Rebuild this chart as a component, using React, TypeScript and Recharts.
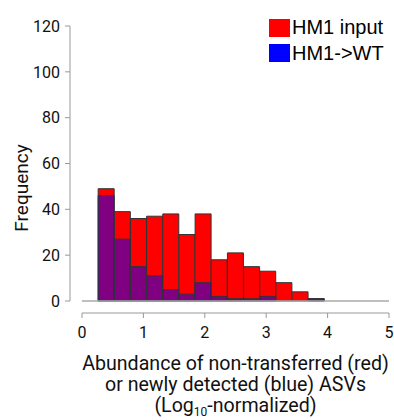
import { ComposedChart, Bar, XAxis, YAxis, Legend, ReferenceLine } from "recharts";

// histogram bins (left edge of each bin, log10 units)
const binStarts = [0.0, 0.26, 0.53, 0.79, 1.05, 1.32, 1.58, 1.84, 2.11, 2.37, 2.63, 2.89, 3.16, 3.42, 3.68, 3.95, 4.21, 4.47, 4.74];
const hm1Input = [0, 49, 39, 36, 37, 38, 29, 38, 18, 21, 15, 13, 8, 4, 1, 0, 0, 0, 0];
const hm1ToWT = [0, 46, 27, 15, 11, 5, 3, 8, 2, 1, 1, 2, 0, 0, 1, 0, 0, 0, 0];

const xTicks = [0, 1, 2, 3, 4, 5];
const yTicks = [0, 20, 40, 60, 80, 100, 120];

const data = binStarts.map((start, i) => ({
  start,
  input: hm1Input[i],
  wt: hm1ToWT[i],
}));

const AXIS_FONT = "Roboto, 'Noto Sans', sans-serif";

const renderLegend = (props: any) => (
  <div style={{ fontFamily: "'Liberation Sans', Arial, sans-serif", fontSize: 20, color: "#000" }}>
    {props.payload.map((p: any) => (
      <div key={p.value} style={{ display: "flex", alignItems: "center", height: 25.5 }}>
        <span style={{ display: "inline-block", width: 21, height: 18, background: p.color, marginRight: 2 }} />
        {p.value}
      </div>
    ))}
  </div>
);

const XTitle = (props: any) => {
  const { x, y, width } = props.viewBox;
  const cx = x + width / 2;
  return (
    <text x={cx} y={y} textAnchor="middle" fontFamily={AXIS_FONT} fontSize={19.6} fill="#111">
      <tspan x={cx} dy={57}>Abundance of non-transferred (red)</tspan>
      <tspan x={cx} dy={21}>or newly detected (blue) ASVs</tspan>
      <tspan x={cx} dy={21}>
        (Log<tspan fontSize={12} dy={4}>10</tspan>
        <tspan dy={-4}>-normalized)</tspan>
      </tspan>
    </text>
  );
};

const YTitle = () => (
  <text x={28} y={188} transform="rotate(-90 28 188)" textAnchor="middle" fontFamily={AXIS_FONT} fontSize={19} fill="#111">
    Frequency
  </text>
);

export default function App() {
  return (
    <div style={{ position: "absolute", left: 0, top: 0 }}>
      <ComposedChart width={394} height={420} data={data} barCategoryGap="0%" barGap={0}
        margin={{ top: 26, right: 5, bottom: 0, left: 0 }}>
        {/* spacer axes push the visible axes away from the plot */}
        <XAxis xAxisId="binsRed" dataKey="start" type="category" height={12} axisLine={false} tickLine={false} tick={false} />
        <XAxis xAxisId="binsBlue" dataKey="start" type="category" height={0} hide />
        <XAxis xAxisId="num" dataKey="start" type="number" domain={[0, 5]} allowDataOverflow ticks={xTicks}
          height={107} tickSize={5} tickMargin={9} stroke="#999"
          tick={{ fill: "#111", fontSize: 16, fontFamily: AXIS_FONT }} label={<XTitle />} />
        <YAxis yAxisId="pad" width={12} domain={[0, 120]} axisLine={false} tickLine={false} tick={false} />
        <YAxis yAxisId="y" width={70} domain={[0, 120]} ticks={yTicks} tickSize={5} tickMargin={5} stroke="#999"
          tick={{ fill: "#111", fontSize: 16, fontFamily: AXIS_FONT }} label={<YTitle />} />
        <ReferenceLine yAxisId="y" xAxisId="num" y={0} stroke="#aaa" strokeWidth={1.5} />
        <Bar xAxisId="binsRed" yAxisId="y" dataKey="input" name="HM1 input" fill="#ff0000" stroke="#333" strokeWidth={1} isAnimationActive={false} />
        <Bar xAxisId="binsBlue" yAxisId="y" dataKey="wt" name="HM1->WT" fill="#0000ff" fillOpacity={0.5} stroke="#333" strokeWidth={1} isAnimationActive={false} />
        <Legend layout="vertical" align="center" verticalAlign="middle" content={renderLegend}
          wrapperStyle={{ top: 15, left: 269, width: "auto" }} />
      </ComposedChart>
    </div>
  );
}
